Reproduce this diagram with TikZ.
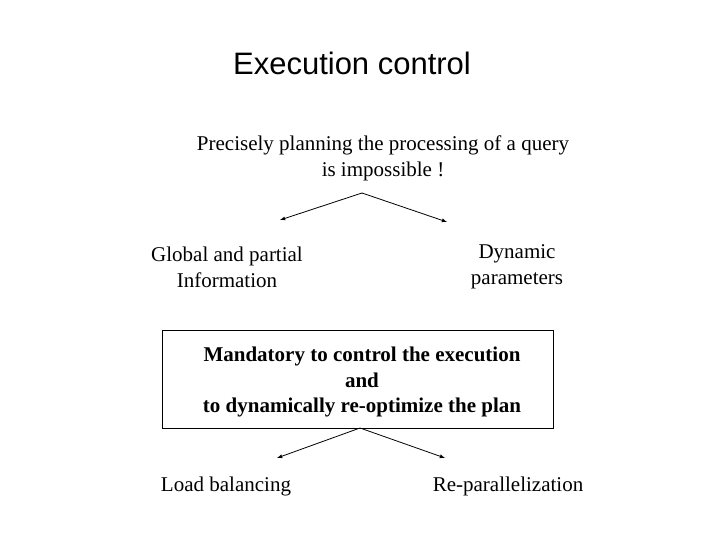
\documentclass[tikz,border=0pt]{standalone}
\usepackage{fontspec}
\setmainfont{Liberation Serif}
\setsansfont{Liberation Sans}
\begin{document}
\begin{tikzpicture}[x=1pt,y=-1pt,
  txt/.style={font=\fontsize{21}{26}\selectfont,align=center,inner sep=0pt},
  arr/.style={-latex,line width=0.8pt}]
\useasboundingbox (0,0) rectangle (720,540);
\node[font=\sffamily\fontsize{31}{36}\selectfont,inner sep=0pt] (title) at (352,63) {Execution control};
\node[txt] (q) at (383,158) {Precisely planning the processing of a query\\is impossible !};
\coordinate (qs) at (362,193);
\node[txt] (g) at (227,267) {Global and partial\\Information};
\node[txt] (d) at (517,267) {Dynamic\\parameters};
\coordinate (gt) at (280,220);
\coordinate (dt) at (447,222);
\draw[arr] (qs) -- (gt);
\draw[arr] (qs) -- (dt);
\node[draw,line width=0.8pt,minimum width=391pt,minimum height=98pt,inner sep=0pt] (box) at (357.5,379) {};
\node[txt,font=\bfseries\fontsize{21}{25.5}\selectfont] (m) at (362,382) {Mandatory to control the execution\\and\\to dynamically re-optimize the plan};
\coordinate (bs) at (360,428);
\coordinate (lt) at (277,458);
\coordinate (rt) at (445,458);
\draw[arr] (bs) -- (lt);
\draw[arr] (bs) -- (rt);
\node[txt] (l) at (226,486) {Load balancing};
\node[txt] (r) at (508,486) {Re-parallelization};
\end{tikzpicture}
\end{document}
